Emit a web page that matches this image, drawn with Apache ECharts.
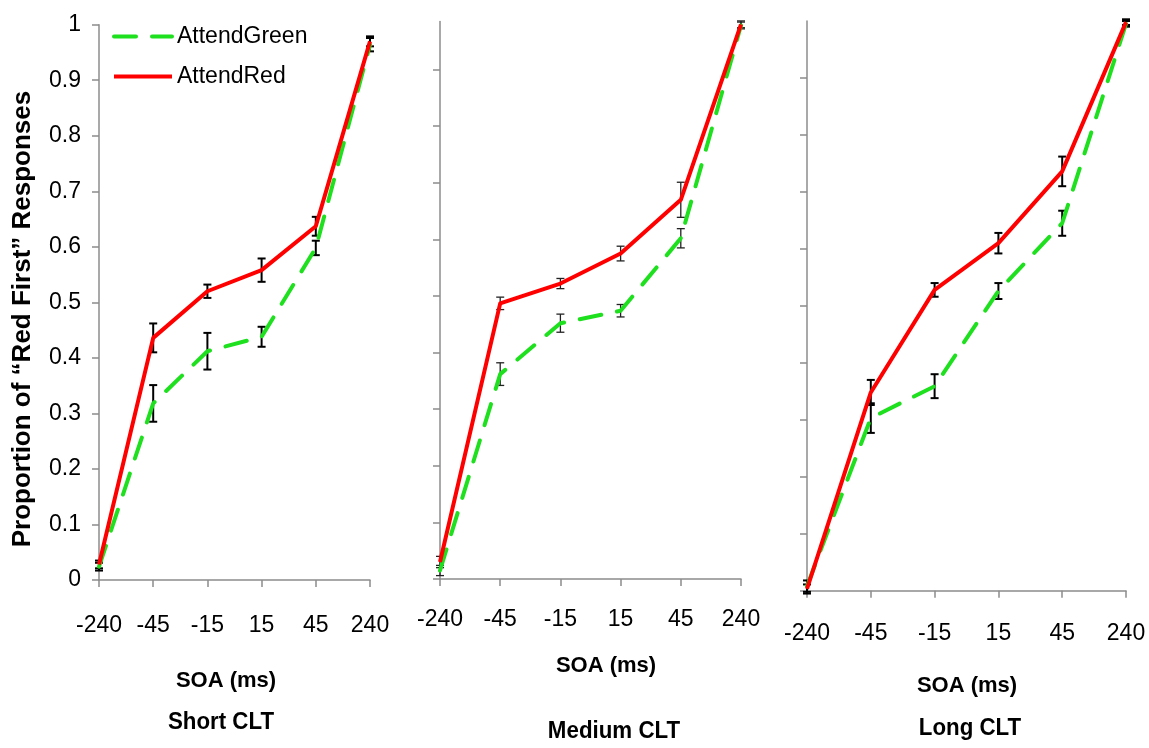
<!DOCTYPE html>
<html>
<head>
<meta charset="utf-8">
<title>Proportion of "Red First" Responses by SOA</title>
<script src="https://cdn.jsdelivr.net/npm/echarts@6/dist/echarts.min.js"></script>
<style>
  html, body { margin: 0; padding: 0; background: #fff; }
  #chart { width: 1149px; height: 748px; }
</style>
</head>
<body>
<div id="chart"></div>
<script>
// SOA conditions shared by all three panels
const categories = ['-240', '-45', '-15', '15', '45', '240'];
const panelTitles = ['Short CLT', 'Medium CLT', 'Long CLT'];
const yTicks = [0, 0.1, 0.2, 0.3, 0.4, 0.5, 0.6, 0.7, 0.8, 0.9];

// Short CLT
const shortGreen    = [0.024, 0.318, 0.412, 0.438, 0.598, 0.964];
const shortGreenErr = [0.007, 0.033, 0.033, 0.018, 0.013, 0.012];
const shortRed      = [0.028, 0.436, 0.520, 0.558, 0.637, 0.970];
const shortRedErr   = [0.007, 0.026, 0.012, 0.021, 0.017, 0.009];

// Medium CLT
const mediumGreen    = [0.015, 0.362, 0.452, 0.474, 0.602, 0.978];
const mediumGreenErr = [0.009, 0.020, 0.016, 0.011, 0.017, 0.006];
const mediumRed      = [0.030, 0.487, 0.522, 0.575, 0.670, 0.980];
const mediumRedErr   = [0.010, 0.011, 0.009, 0.013, 0.031, 0.006];

// Long CLT
const longGreen    = [0.008, 0.303, 0.359, 0.526, 0.645, 0.995];
const longGreenErr = [0.010, 0.026, 0.021, 0.014, 0.022, 0.005];
const longRed      = [0.003, 0.348, 0.528, 0.610, 0.736, 0.998];
const longRedErr   = [0.008, 0.022, 0.012, 0.018, 0.026, 0.005];

const GREEN = '#1ee01e';
const RED = '#ff0000';
const AXIS = '#8c8c8c';
const FONT = 'Liberation Sans, Arial, sans-serif';
const GREEN_DASH = [22, 16];

const panels = [
  { green: shortGreen, greenErr: shortGreenErr, red: shortRed, redErr: shortRedErr,
    grid: { left: 99, top: 24.7, width: 271, height: 555.3 }, yMax: 1, labels: true,
    labelMargin: 34, barWidth: 2, barColor: '#000' },
  { green: mediumGreen, greenErr: mediumGreenErr, red: mediumRed, redErr: mediumRedErr,
    grid: { left: 440, top: 21.5, width: 301, height: 557.5 }, yMax: 0.985, labels: false,
    labelMargin: 29, barWidth: 1.3, barColor: '#222' },
  { green: longGreen, greenErr: longGreenErr, red: longRed, redErr: longRedErr,
    grid: { left: 807, top: 21, width: 319, height: 569.7 }, yMax: 1, labels: false,
    labelMargin: 31, barWidth: 2, barColor: '#000' }
];

// Axis names and panel captions (centre x, centre y)
const axisNamePos = [[226, 681], [606, 666], [967, 686]];
const titlePos = [[221, 722], [614, 731], [970, 728]];

function errorBars(color, width) {
  return function (params, api) {
    const x = api.value(0);
    const v = api.value(1);
    const e = api.value(2);
    const hi = api.coord([x, v + e]);
    const lo = api.coord([x, v - e]);
    const half = 4;
    const style = { stroke: color, lineWidth: width };
    return {
      type: 'group',
      children: [
        { type: 'line', shape: { x1: hi[0], y1: hi[1], x2: lo[0], y2: lo[1] }, style: style },
        { type: 'line', shape: { x1: hi[0] - half, y1: hi[1], x2: hi[0] + half, y2: hi[1] }, style: style },
        { type: 'line', shape: { x1: lo[0] - half, y1: lo[1], x2: lo[0] + half, y2: lo[1] }, style: style }
      ]
    };
  };
}

const grids = [], xAxes = [], yAxes = [], series = [], graphics = [];

panels.forEach(function (p, i) {
  grids.push(p.grid);
  xAxes.push({
    type: 'category', gridIndex: i, data: categories, boundaryGap: false,
    axisLine: { lineStyle: { color: AXIS, width: 1.5 } },
    axisTick: { length: 7, interval: 0, lineStyle: { color: AXIS, width: 1.5 } },
    axisLabel: { color: '#000', fontSize: 23, fontFamily: FONT, margin: p.labelMargin,
                 interval: 0, hideOverlap: false }
  });
  const y = {
    type: 'value', gridIndex: i, min: 0, max: p.yMax, interval: 0.1,
    splitLine: { show: false },
    axisLine: { show: true, lineStyle: { color: AXIS, width: 1.5 } },
    axisTick: { show: true, length: 7, lineStyle: { color: AXIS, width: 1.5 } },
    axisLabel: { show: p.labels, color: '#000', fontSize: 23, fontFamily: FONT, margin: 18 }
  };
  if (!p.labels) {
    y.axisTick.customValues = yTicks;
  }
  yAxes.push(y);

  series.push({
    name: 'AttendGreen', type: 'line', xAxisIndex: i, yAxisIndex: i,
    data: p.green, symbol: 'none', silent: true,
    lineStyle: { color: GREEN, width: 4, type: GREEN_DASH, cap: 'round' },
    itemStyle: { color: GREEN }
  });
  series.push({
    name: 'AttendGreen error', type: 'custom', xAxisIndex: i, yAxisIndex: i,
    silent: true,
    renderItem: errorBars(p.barColor, p.barWidth),
    data: categories.map(function (c, k) { return [k, p.green[k], p.greenErr[k]]; })
  });
  series.push({
    name: 'AttendRed', type: 'line', xAxisIndex: i, yAxisIndex: i,
    data: p.red, symbol: 'none', silent: true,
    lineStyle: { color: RED, width: 4, join: 'round' },
    itemStyle: { color: RED }
  });
  series.push({
    name: 'AttendRed error', type: 'custom', xAxisIndex: i, yAxisIndex: i,
    silent: true,
    renderItem: errorBars(p.barColor, p.barWidth),
    data: categories.map(function (c, k) { return [k, p.red[k], p.redErr[k]]; })
  });

  graphics.push({
    type: 'text', x: axisNamePos[i][0], y: axisNamePos[i][1],
    style: { text: 'SOA (ms)', fill: '#000', font: 'bold 22px ' + FONT,
             textAlign: 'center', textVerticalAlign: 'middle' }
  });
  graphics.push({
    type: 'text', x: titlePos[i][0], y: titlePos[i][1], scaleX: 0.93,
    style: { text: panelTitles[i], fill: '#000', font: 'bold 24px ' + FONT,
             textAlign: 'center', textVerticalAlign: 'middle' }
  });
});

graphics.push({
  type: 'text', x: 23, y: 319, rotation: Math.PI / 2,
  style: { text: 'Proportion of \u201CRed First\u201D Responses', fill: '#000',
           font: 'bold 26px ' + FONT, textAlign: 'center', textVerticalAlign: 'middle' }
});

const chart = echarts.init(document.getElementById('chart'), null, { renderer: 'canvas' });
chart.setOption({
  animation: false,
  backgroundColor: '#fff',
  grid: grids,
  xAxis: xAxes,
  yAxis: yAxes,
  legend: {
    data: [
      { name: 'AttendGreen', lineStyle: { color: GREEN, width: 4, type: GREEN_DASH, cap: 'round' } },
      { name: 'AttendRed', lineStyle: { color: RED, width: 4 } }
    ],
    orient: 'vertical', left: 107, top: 20,
    itemWidth: 58, itemHeight: 24, itemGap: 17,
    itemStyle: { opacity: 0 },
    textStyle: { color: '#000', fontSize: 23, fontFamily: FONT },
    selectedMode: false
  },
  series: series,
  graphic: graphics
});
</script>
</body>
</html>
